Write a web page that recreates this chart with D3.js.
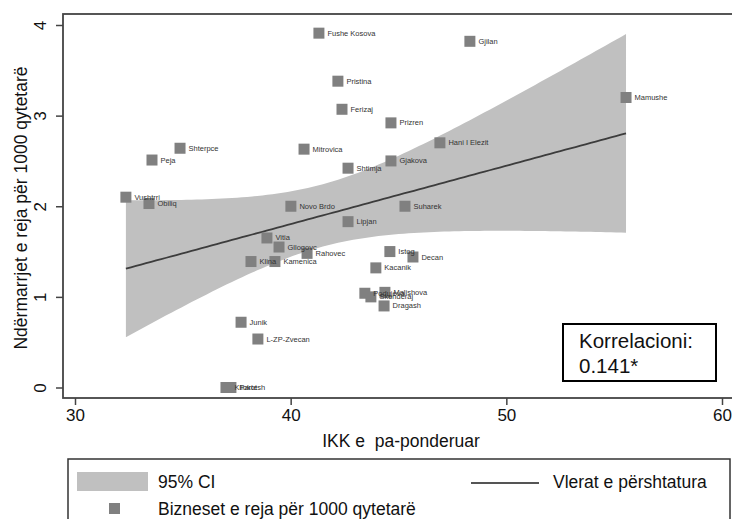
<!DOCTYPE html>
<html>
<head>
<meta charset="utf-8">
<script src="https://cdn.jsdelivr.net/npm/d3@7"></script>
<style>
  body { margin: 0; background: #fff; }
  svg { display: block; font-family: "Liberation Sans", Arial, Helvetica, sans-serif; }
</style>
</head>
<body>
<svg id="chart" width="732" height="519"></svg>
<script>
// Municipalities: unweighted IKK index vs. new businesses per 1000 inhabitants
const municipalities = [
  "Fushe Kosova", "Gjilan", "Mamushe", "Pristina", "Ferizaj", "Prizren", "Hani I Elezit",
  "Shterpce", "Peja", "Mitrovica", "Gjakova", "Shtimja", "Vushtrri", "Obiliq", "Novo Brdo",
  "Suharek", "Lipjan", "Vitia", "Gllogovc", "Rahovec", "Klina", "Kamenica", "Istog", "Decan",
  "Kacanik", "Podujeva", "Skenderaj", "Malishova", "Dragash", "Junik", "L-ZP-Zvecan",
  "Kllokot", "Partesh"
];
const ikk = [
  41.31, 48.31, 55.55, 42.19, 42.38, 44.65, 46.92,
  34.87, 33.57, 40.62, 44.65, 42.66, 32.36, 33.43, 40.01,
  45.30, 42.66, 38.90, 39.46, 40.76, 38.16, 39.27, 44.60, 45.67,
  43.95, 43.44, 43.72, 44.37, 44.33, 37.70, 38.48,
  37.00, 37.23
];
const bizneset = [
  3.91, 3.82, 3.20, 3.38, 3.07, 2.92, 2.70,
  2.64, 2.51, 2.63, 2.50, 2.42, 2.10, 2.03, 2.00,
  2.00, 1.83, 1.65, 1.55, 1.48, 1.39, 1.39, 1.50, 1.44,
  1.32, 1.04, 1.00, 1.05, 0.90, 0.72, 0.535,
  0.00, 0.00
];
const xTicks = [30, 40, 50, 60];
const yTicks = [0, 1, 2, 3, 4];
const xTitle = "IKK e  pa-ponderuar";
const yTitle = "Ndërmarrjet e reja për 1000 qytetarë";
const legendLabels = ["95% CI", "Vlerat e përshtatura", "Bizneset e reja për 1000 qytetarë"];
const noteLines = ["Korrelacioni:", "0.141*"];

const svg = d3.select("#chart");

const x = d3.scaleLinear().domain([30, 60]).range([75, 722]);
const y = d3.scaleLinear().domain([0, 4]).range([387.5, 25]);

// ---- linear fit with 95% confidence band for the mean ----
const n = ikk.length;
const mx = d3.mean(ikk), my = d3.mean(bizneset);
let sxx = 0, sxy = 0, syy = 0;
for (let i = 0; i < n; i++) {
  const dx = ikk[i] - mx, dy = bizneset[i] - my;
  sxx += dx * dx; sxy += dx * dy; syy += dy * dy;
}
const slope = sxy / sxx;
const intercept = my - slope * mx;
const sse = syy - sxy * sxy / sxx;
const se = Math.sqrt(sse / (n - 2));

// Student t quantile (0.975) via Cornish-Fisher expansion
function tQuantile975(df) {
  const z = 1.959963985;
  const z3 = z ** 3, z5 = z ** 5, z7 = z ** 7, z9 = z ** 9;
  const g1 = (z3 + z) / 4;
  const g2 = (5 * z5 + 16 * z3 + 3 * z) / 96;
  const g3 = (3 * z7 + 19 * z5 + 17 * z3 - 15 * z) / 384;
  const g4 = (79 * z9 + 776 * z7 + 1482 * z5 - 1920 * z3 - 945 * z) / 92160;
  return z + g1 / df + g2 / df ** 2 + g3 / df ** 3 + g4 / df ** 4;
}
const tcrit = tQuantile975(n - 2);

const [xmin, xmax] = d3.extent(ikk);
const fitPts = d3.range(100).map(k => {
  const xv = xmin + (xmax - xmin) * k / 99;
  const yhat = intercept + slope * xv;
  const hw = tcrit * se * Math.sqrt(1 / n + (xv - mx) ** 2 / sxx);
  return { x: xv, yhat, lo: yhat - hw, hi: yhat + hw };
});

// ---- plot frame and axes ----
const axisColor = "#444";
svg.append("rect")
  .attr("x", 63).attr("y", 14)
  .attr("width", 700).attr("height", 384)
  .attr("fill", "none").attr("stroke", axisColor).attr("stroke-width", 1.8);

// confidence band
svg.append("path")
  .datum(fitPts)
  .attr("fill", "#c0c0c0")
  .attr("d", d3.area().x(d => x(d.x)).y0(d => y(d.lo)).y1(d => y(d.hi)));

// fitted values
svg.append("path")
  .datum(fitPts)
  .attr("fill", "none")
  .attr("stroke", "#3c3c3c")
  .attr("stroke-width", 1.8)
  .attr("d", d3.line().x(d => x(d.x)).y(d => y(d.yhat)));

// y axis
const yAxis = svg.append("g").attr("transform", "translate(63,0)")
  .call(d3.axisLeft(y).tickValues(yTicks).tickSize(7).tickPadding(0).tickFormat(d3.format("d")));
yAxis.select(".domain").remove();
yAxis.selectAll(".tick line").attr("stroke", axisColor).attr("stroke-width", 1.5);
yAxis.selectAll(".tick text")
  .attr("x", null).attr("dy", null)
  .attr("transform", "translate(-23,0) rotate(-90)")
  .attr("text-anchor", "middle")
  .attr("dominant-baseline", "central")
  .attr("font-size", 17)
  .attr("font-family", "Liberation Sans, Arial, sans-serif")
  .attr("fill", "#111");

// x axis
const xAxis = svg.append("g").attr("transform", "translate(0,398)")
  .call(d3.axisBottom(x).tickValues(xTicks).tickSize(7).tickPadding(0).tickFormat(d3.format("d")));
xAxis.select(".domain").remove();
xAxis.selectAll(".tick line").attr("stroke", axisColor).attr("stroke-width", 1.5);
xAxis.selectAll(".tick text")
  .attr("y", 23).attr("dy", null)
  .attr("font-size", 17)
  .attr("font-family", "Liberation Sans, Arial, sans-serif")
  .attr("fill", "#111");

// axis titles
svg.append("text")
  .attr("x", 401).attr("y", 447)
  .attr("text-anchor", "middle")
  .attr("font-size", 17.5)
  .attr("fill", "#111")
  .style("white-space", "pre")
  .text(xTitle);

svg.append("text")
  .attr("transform", "translate(21,208) rotate(-90)")
  .attr("text-anchor", "middle")
  .attr("dominant-baseline", "central")
  .attr("font-size", 17.5)
  .attr("fill", "#111")
  .text(yTitle);

// ---- scatter markers with labels ----
const pts = municipalities.map((name, i) => ({ name, x: ikk[i], y: bizneset[i] }));
const msize = 11;
svg.append("g").selectAll("rect")
  .data(pts).join("rect")
  .attr("x", d => x(d.x) - msize / 2)
  .attr("y", d => y(d.y) - msize / 2)
  .attr("width", msize).attr("height", msize)
  .attr("fill", "#808080");

svg.append("g").selectAll("text")
  .data(pts).join("text")
  .attr("x", d => x(d.x) + 8.5)
  .attr("y", d => y(d.y))
  .attr("dominant-baseline", "central")
  .attr("font-size", 7.5)
  .attr("fill", "#333")
  .text(d => d.name);

// ---- correlation note ----
svg.append("rect")
  .attr("x", 563).attr("y", 324).attr("width", 153).attr("height", 57)
  .attr("fill", "#fff").attr("stroke", "#000").attr("stroke-width", 2);
svg.append("g").selectAll("text")
  .data(noteLines).join("text")
  .attr("x", 579).attr("y", (d, i) => 348 + i * 25)
  .attr("font-size", 20.5)
  .attr("fill", "#111")
  .text(d => d);

// ---- legend ----
const lg = svg.append("g");
lg.append("rect")
  .attr("x", 68).attr("y", 459).attr("width", 662).attr("height", 80)
  .attr("fill", "#fff").attr("stroke", "#333").attr("stroke-width", 1.5);
lg.append("rect")
  .attr("x", 77).attr("y", 472).attr("width", 71).attr("height", 19)
  .attr("fill", "#c0c0c0");
lg.append("line")
  .attr("x1", 471).attr("x2", 539).attr("y1", 483).attr("y2", 483)
  .attr("stroke", "#555").attr("stroke-width", 1.8);
lg.append("rect")
  .attr("x", 109).attr("y", 503).attr("width", 11).attr("height", 11)
  .attr("fill", "#808080");
const legendPos = [[158, 482], [553, 482], [158, 509]];
lg.selectAll("text.lbl")
  .data(legendLabels).join("text")
  .attr("class", "lbl")
  .attr("x", (d, i) => legendPos[i][0])
  .attr("y", (d, i) => legendPos[i][1])
  .attr("dominant-baseline", "central")
  .attr("font-size", 17.5)
  .attr("fill", "#111")
  .text(d => d);
</script>
</body>
</html>
